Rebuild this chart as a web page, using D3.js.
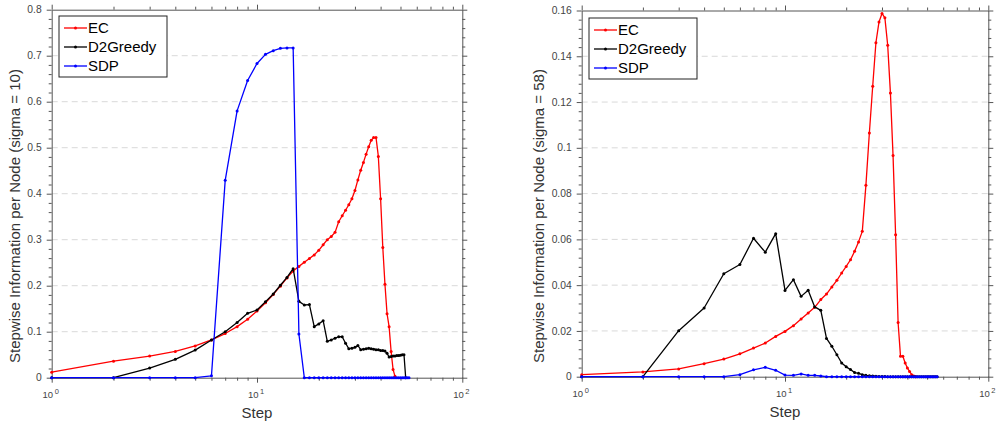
<!DOCTYPE html>
<html>
<head>
<meta charset="utf-8">
<script src="https://cdn.jsdelivr.net/npm/d3@7"></script>
<style>
  body { margin: 0; background: #fff; }
  text { font-family: "Liberation Sans", Arial, Helvetica, sans-serif; }
</style>
</head>
<body>
<div id="chart"></div>
<script>
// Series names and colours
const seriesNames = ["EC", "D2Greedy", "SDP"];
const seriesColors = ["#ff0000", "#000000", "#0000ff"];

// Left panel (sigma = 10), values per step starting at step 1
const ecSigma10 = [0.012, 0.036, 0.047, 0.057, 0.069, 0.082, 0.096, 0.111, 0.127, 0.145,
  0.163, 0.181, 0.199, 0.217, 0.232, 0.242, 0.251, 0.259, 0.267, 0.277,
  0.289, 0.300, 0.307, 0.316, 0.339, 0.352, 0.364, 0.376, 0.389, 0.407,
  0.430, 0.451, 0.468, 0.486, 0.502, 0.516, 0.522, 0.522, 0.481, 0.389,
  0.283, 0.203, 0.139, 0.111, 0.057, 0.018, 0.003];
const greedySigma10 = [0, 0, 0.021, 0.040, 0.060, 0.082, 0.100, 0.120, 0.140, 0.147,
  0.165, 0.182, 0.201, 0.218, 0.237, 0.166, 0.158, 0.159, 0.111, 0.117,
  0.124, 0.079, 0.082, 0.086, 0.089, 0.089, 0.075, 0.063, 0.064, 0.066,
  0.070, 0.061, 0.062, 0.063, 0.064, 0.063, 0.062, 0.061, 0.061, 0.059,
  0.059, 0.058, 0.053, 0.045, 0.046, 0.047, 0.047, 0.048, 0.048, 0.049,
  0.050, 0.050, 0];
const sdpSigma10 = [0, 0, 0, 0, 0, 0.004, 0.429, 0.580, 0.646, 0.683,
  0.703, 0.711, 0.716, 0.717, 0.717, 0.095, 0, 0, 0, 0,
  0, 0, 0, 0, 0, 0, 0, 0, 0, 0,
  0, 0, 0, 0, 0, 0, 0, 0, 0, 0,
  0, 0, 0, 0, 0, 0, 0, 0, 0, 0,
  0, 0, 0, 0, 0];

// Right panel (sigma = 58)
const ecSigma58 = [0.0009, 0.0021, 0.0034, 0.0057, 0.0077, 0.0100, 0.0125, 0.0147, 0.0176, 0.0198,
  0.0223, 0.0252, 0.0278, 0.0303, 0.0337, 0.0361, 0.0392, 0.0421, 0.0453, 0.0482,
  0.0511, 0.0548, 0.0589, 0.0635, 0.0836, 0.1065, 0.1269, 0.1459, 0.1550, 0.1587,
  0.1568, 0.1448, 0.1240, 0.0966, 0.0620, 0.0237, 0.0089, 0.0089, 0.0060, 0.0038,
  0.0023, 0.0009, 0.0003, 0];
const greedySigma58 = [0, 0, 0.0201, 0.0300, 0.0450, 0.0490, 0.0605, 0.0544, 0.0625, 0.0377,
  0.0424, 0.0351, 0.0378, 0.0305, 0.0290, 0.0167, 0.0133, 0.0096, 0.0060, 0.0043,
  0.0031, 0.0018, 0.0015, 0.0009, 0.0006, 0.0004, 0.0003, 0.0002, 0.0001, 0.0001,
  0.0001, 0, 0, 0, 0, 0, 0, 0, 0, 0,
  0, 0, 0, 0, 0, 0, 0, 0, 0, 0,
  0, 0, 0, 0, 0, 0];
const sdpSigma58 = [0, 0, 0, 0, 0, 0.0009, 0.0030, 0.0041, 0.0028, 0.0007,
  0.0006, 0.0012, 0.0006, 0.0006, 0.0003, 0, 0, 0, 0, 0,
  0, 0, 0, 0, 0, 0, 0, 0, 0, 0,
  0, 0, 0, 0, 0, 0, 0, 0, 0, 0,
  0, 0, 0, 0, 0, 0, 0, 0, 0, 0,
  0, 0, 0, 0, 0, 0];

// Tick values
const xMajorTicks = [1, 10, 100];
const xTickExponents = ["0", "1", "2"];
const xMinorTicks = [2, 3, 4, 5, 6, 7, 8, 9, 20, 30, 40, 50, 60, 70, 80, 90];
const yTicksSigma10 = [0, 0.1, 0.2, 0.3, 0.4, 0.5, 0.6, 0.7, 0.8];
const yTickLabelsSigma10 = ["0", "0.1", "0.2", "0.3", "0.4", "0.5", "0.6", "0.7", "0.8"];
const yTicksSigma58 = [0, 0.02, 0.04, 0.06, 0.08, 0.1, 0.12, 0.14, 0.16];
const yTickLabelsSigma58 = ["0", "0.02", "0.04", "0.06", "0.08", "0.1", "0.12", "0.14", "0.16"];

const W = 997, H = 423;
const axisColor = "#555";

const svg = d3.select("#chart").append("svg")
  .attr("width", W)
  .attr("height", H);

svg.append("rect")
  .attr("width", W)
  .attr("height", H)
  .attr("fill", "#fff");

/**
 * Draw one panel
 */
function drawPanel(p) {
  const x = d3.scaleLog().domain([1, 100]).range([p.left, p.right]);
  const y = d3.scaleLinear().domain([0, p.yMax]).range([p.bottom, p.top]);
  const g = svg.append("g");

  // Minor y ticks (4 between majors)
  const yMinor = [];
  for (let i = 0; i < p.yTicks.length - 1; i++) {
    const step = (p.yTicks[i + 1] - p.yTicks[i]) / 5;
    for (let k = 1; k < 5; k++) yMinor.push(p.yTicks[i] + k * step);
  }

  // Dashed grid
  g.append("g")
    .selectAll("line")
    .data(p.yTicks.slice(1, -1))
    .join("line")
    .attr("x1", p.left)
    .attr("x2", p.right)
    .attr("y1", d => y(d))
    .attr("y2", d => y(d))
    .attr("stroke", "#d9d9d9")
    .attr("stroke-dasharray", "6,4");

  // Axes, ticks outward on all four sides
  const axes = [
    [d3.axisBottom(x), `translate(0,${p.bottom})`, xMajorTicks, xMinorTicks],
    [d3.axisTop(x), `translate(0,${p.top})`, xMajorTicks, xMinorTicks],
    [d3.axisLeft(y), `translate(${p.left},0)`, p.yTicks, yMinor],
    [d3.axisRight(y), `translate(${p.right},0)`, p.yTicks, yMinor]
  ];
  axes.forEach(([axis, tr, major, minor]) => {
    const ag = g.append("g").attr("transform", tr)
      .call(axis.tickValues(major).tickSize(5).tickSizeOuter(0).tickFormat(""));
    ag.append("g")
      .call(axis.tickValues(minor).tickSize(3).tickSizeOuter(0).tickFormat(""))
      .select(".domain").remove();
    ag.selectAll("path, line").attr("stroke", axisColor);
  });

  // Y tick labels
  g.append("g")
    .selectAll("text")
    .data(p.yTicks)
    .join("text")
    .attr("x", p.left - 10)
    .attr("y", d => y(d))
    .attr("dy", "0.35em")
    .attr("text-anchor", "end")
    .attr("font-size", 10.3)
    .attr("fill", "#444")
    .text((d, i) => p.yTickLabels[i]);

  // X tick labels, 10 with superscript exponent
  const xl = g.append("g")
    .selectAll("text")
    .data(xMajorTicks)
    .join("text")
    .attr("x", d => x(d) - 1)
    .attr("y", p.bottom + 20)
    .attr("text-anchor", "middle")
    .attr("font-size", 9.5)
    .attr("fill", "#444");
  xl.append("tspan").text("10");
  xl.append("tspan")
    .attr("font-size", 7.5)
    .attr("dx", 1.5)
    .attr("dy", -4)
    .text((d, i) => xTickExponents[i]);

  // Axis titles
  g.append("text")
    .attr("x", (p.left + p.right) / 2)
    .attr("y", p.bottom + 40)
    .attr("text-anchor", "middle")
    .attr("font-size", 15)
    .attr("fill", "#333")
    .text("Step");

  g.append("text")
    .attr("transform", `translate(${p.yLabelX},${p.yLabelY}) rotate(-90)`)
    .attr("text-anchor", "middle")
    .attr("font-size", 15)
    .attr("fill", "#333")
    .text(p.yLabel);

  // Lines
  const line = d3.line()
    .x((d, i) => x(i + 1))
    .y(d => y(d));

  p.series.forEach((vals, s) => {
    g.append("path")
      .datum(vals)
      .attr("fill", "none")
      .attr("stroke", seriesColors[s])
      .attr("stroke-width", 1.3)
      .attr("stroke-linejoin", "round")
      .attr("d", line);
    g.append("g")
      .selectAll("circle")
      .data(vals)
      .join("circle")
      .attr("cx", (d, i) => x(i + 1))
      .attr("cy", d => y(d))
      .attr("r", 1.5)
      .attr("fill", seriesColors[s]);
  });

  // Legend
  const lg = g.append("g").attr("transform", `translate(${p.legendX},${p.legendY})`);
  lg.append("rect")
    .attr("width", 108)
    .attr("height", 61)
    .attr("fill", "#fff")
    .attr("stroke", "#222")
    .attr("stroke-width", 1);
  seriesNames.forEach((name, i) => {
    const cy = 12 + i * 19;
    lg.append("line")
      .attr("x1", 5).attr("x2", 28)
      .attr("y1", cy).attr("y2", cy)
      .attr("stroke", seriesColors[i])
      .attr("stroke-width", 1.3);
    lg.append("circle")
      .attr("cx", 16.5).attr("cy", cy).attr("r", 1.5)
      .attr("fill", seriesColors[i]);
    lg.append("text")
      .attr("x", 29)
      .attr("y", cy)
      .attr("dy", "0.36em")
      .attr("font-size", 15)
      .attr("fill", "#000")
      .text(name);
  });
}

drawPanel({
  left: 51.7, right: 462.3, top: 9.7, bottom: 377.7,
  yMax: 0.8, yTicks: yTicksSigma10, yTickLabels: yTickLabelsSigma10,
  yLabel: "Stepwise Information per Node (sigma = 10)", yLabelX: 20, yLabelY: 216,
  series: [ecSigma10, greedySigma10, sdpSigma10],
  legendX: 59, legendY: 16
});

drawPanel({
  left: 581.7, right: 988.3, top: 10.5, bottom: 376.7,
  yMax: 0.16, yTicks: yTicksSigma58, yTickLabels: yTickLabelsSigma58,
  yLabel: "Stepwise Information per Node (sigma = 58)", yLabelX: 544, yLabelY: 216,
  series: [ecSigma58, greedySigma58, sdpSigma58],
  legendX: 589, legendY: 18
});
</script>
</body>
</html>
